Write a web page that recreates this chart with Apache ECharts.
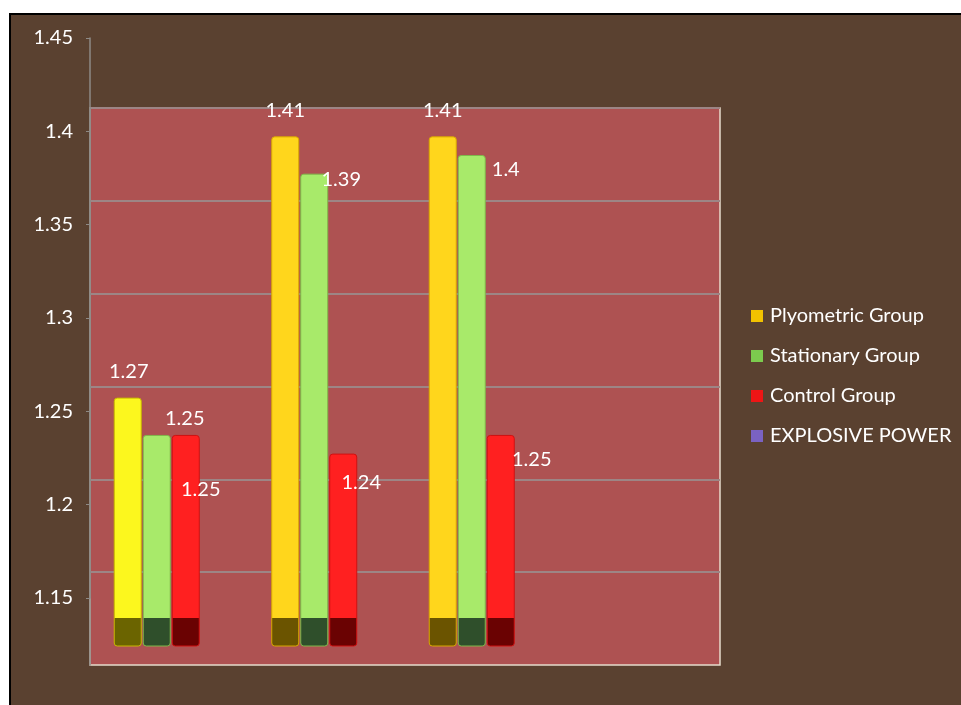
<!DOCTYPE html>
<html>
<head>
<meta charset="utf-8">
<script src="https://cdn.jsdelivr.net/npm/echarts@6/dist/echarts.min.js"></script>
<style>
  html, body { margin: 0; padding: 0; background: #ffffff; }
  #frame {
    position: absolute; left: 9px; top: 13px; right: 0; bottom: 0;
    background: #5a4130;
    border-top: 2px solid #000; border-left: 2px solid #000;
  }
  #chart { position: absolute; left: 0; top: 0; width: 961px; height: 705px; }
</style>
</head>
<body>
<div id="frame"></div>
<div id="chart"></div>
<script>
// ---- data ----
const categories = ['Trial 1', 'Trial 2', 'Trial 3', 'Trial 4'];
const seriesNames = ['Plyometric Group', 'Stationary Group', 'Control Group', 'EXPLOSIVE POWER'];
const plyometric = [1.27, 1.41, 1.41];
const stationary = [1.25, 1.39, 1.40];
const control = [1.25, 1.24, 1.25];
const explosivePower = [];
const yTicks = [1.15, 1.2, 1.25, 1.3, 1.35, 1.4, 1.45];

// ---- styling ----
const FONT = 'Lato, "Open Sans", sans-serif';
const PLINTH_STOP = 618 / 705;           // where the dark plinth starts (page-relative)
const legendColors = ['#f2c200', '#7ccb4e', '#ee1515', '#7a62c2'];

// per-bar colours: [bright face, dark plinth, edge]
const plyoColors = [
  ['#fcf71e', '#6b6400', '#c9b800'],
  ['#ffd61c', '#6b5400', '#d9a800'],
  ['#ffd61c', '#6b5400', '#d9a800']
];
const statColors = ['#a8ea6a', '#2f4f2b', '#7fb84a'];
const ctrlColors = ['#ff2020', '#6a0202', '#d01010'];

// label placement [dx, dy] relative to the centre of each bar's top edge
const plyoLabelPos = [[1, -26], [0, -26], [0, -26]];
const statLabelPos = [[28, -16], [27, 6], [34, 15]];
const ctrlLabelPos = [[15, 55], [18, 29], [31, 25]];

function faceFill(bright, dark) {
  return {
    type: 'linear', x: 0, y: 0, x2: 0, y2: 705, global: true,
    colorStops: [
      { offset: 0, color: bright },
      { offset: PLINTH_STOP, color: bright },
      { offset: PLINTH_STOP, color: dark },
      { offset: 1, color: dark }
    ]
  };
}

function barItems(values, colorFor, labelPos) {
  return values.map((v, i) => {
    const c = colorFor(i);
    return {
      value: v,
      itemStyle: { color: faceFill(c[0], c[1]), borderColor: c[2] },
      label: {
        position: ['50%', 0],
        offset: labelPos[i]
      }
    };
  });
}

const barBase = {
  type: 'bar',
  xAxisIndex: 2,
  yAxisIndex: 2,
  barWidth: 28,
  barGap: '3.6%',
  itemStyle: { borderWidth: 1, borderRadius: 3 },
  label: {
    show: true,
    color: '#ffffff',
    fontSize: 20,
    fontFamily: FONT,
    align: 'center',
    verticalAlign: 'middle'
  },
  emphasis: { disabled: true }
};

const chart = echarts.init(document.getElementById('chart'), null, { renderer: 'canvas' });

chart.setOption({
  backgroundColor: 'transparent',
  animation: false,
  grid: [
    // back wall
    { left: 90, right: 241, top: 108, bottom: 40, show: true,
      backgroundColor: '#ae5252', borderColor: '#e6dccb', borderWidth: 1.5 },
    // value axis
    { left: 90, right: 241, top: 38, bottom: 107 },
    // columns
    { left: 92.5, width: 630, top: 61.7, height: 584.3 }
  ],
  xAxis: [
    { gridIndex: 0, type: 'category', data: categories, show: false },
    { gridIndex: 1, type: 'category', data: categories, show: false },
    { gridIndex: 2, type: 'category', data: categories, show: false }
  ],
  yAxis: [
    { gridIndex: 0, type: 'value', min: 1.15, max: 1.45, interval: 0.05,
      axisLabel: { show: false }, axisTick: { show: false },
      axisLine: { show: true, lineStyle: { color: '#8e8a86', width: 1.5 } },
      splitLine: { show: true, showMinLine: false, lineStyle: { color: '#9d8585', width: 2 } } },
    { gridIndex: 1, type: 'value', min: 1.15, max: 1.45, interval: 0.05,
      axisLine: { show: true, lineStyle: { color: '#8e8a86', width: 1.5 } },
      axisTick: { show: true, length: 4, customValues: yTicks, lineStyle: { color: '#8e8a86' } },
      axisLabel: { color: '#ffffff', fontSize: 20, fontFamily: FONT, margin: 17,
        customValues: yTicks, formatter: v => String(+v.toFixed(2)) },
      splitLine: { show: false } },
    { gridIndex: 2, type: 'value', min: 1.1369, max: 1.45, show: false,
      splitLine: { show: false } }
  ],
  legend: {
    orient: 'vertical',
    left: 751,
    top: 305,
    padding: 0,
    icon: 'rect',
    itemWidth: 12,
    itemHeight: 12,
    itemGap: 18,
    selectedMode: false,
    textStyle: { color: '#ffffff', fontSize: 20, fontFamily: FONT, lineHeight: 22, padding: [0, 0, 0, 2] },
    data: seriesNames.map((n, i) => ({ name: n, itemStyle: { color: legendColors[i], borderWidth: 0 } }))
  },
  series: [
    Object.assign({}, barBase, {
      name: seriesNames[0], color: legendColors[0],
      data: barItems(plyometric, i => plyoColors[i], plyoLabelPos)
    }),
    Object.assign({}, barBase, {
      name: seriesNames[1], color: legendColors[1],
      data: barItems(stationary, () => statColors, statLabelPos)
    }),
    Object.assign({}, barBase, {
      name: seriesNames[2], color: legendColors[2],
      data: barItems(control, () => ctrlColors, ctrlLabelPos)
    }),
    Object.assign({}, barBase, {
      name: seriesNames[3], color: legendColors[3],
      data: explosivePower
    })
  ]
});
</script>
</body>
</html>
